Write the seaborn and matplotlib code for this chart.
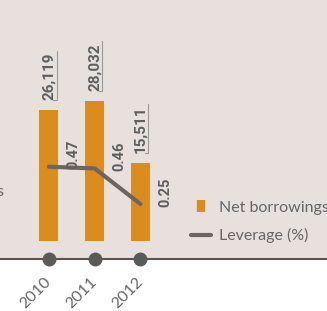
import numpy as np
import matplotlib
matplotlib.use("Agg")
import matplotlib.pyplot as plt
import seaborn as sns
from matplotlib.lines import Line2D

years = ["2010", "2011", "2012"]
net_borrowings = [26119, 28032, 15511]
leverage = [0.47, 0.46, 0.25]
borrow_labels = ["26,119", "28,032", "15,511"]
leverage_labels = ["0.47", "0.46", "0.25"]

bg = "#E7E0DD"
orange = "#DA8C1E"
grey_line = "#6E6562"
text_grey = "#666666"

sns.set_theme(style="white")
plt.rcParams["font.family"] = ["Lato", "DejaVu Sans"]

fig = plt.figure(figsize=(3.27, 3.11), dpi=100)
fig.patch.set_facecolor("white")
ax = fig.add_axes([0, 52 / 311, 1, 259 / 311])
ax.set_facecolor(bg)

x = np.arange(len(years))
sns.barplot(x=x, y=net_borrowings, ax=ax, color=orange, width=0.41,
            saturation=1, native_scale=True, linewidth=0)
ax.set_xlim(-1.065, 6.07)
ax.set_ylim(-3600, 48200)

ax2 = ax.twinx()
sns.lineplot(x=x, y=leverage, ax=ax2, color=grey_line, linewidth=3,
             solid_capstyle="round", solid_joinstyle="round")
ax2.set_ylim(-0.0743, 1.4537)

# value labels above bars, with a small bracket line
for i, (v, lab) in enumerate(zip(net_borrowings, borrow_labels)):
    y0 = v + 2000
    ax.text(i, y0, lab, rotation=90, ha="center", va="bottom",
            fontsize=11, fontweight="bold", color="#5E5E5E",
            family=["Roboto", "DejaVu Sans"])
    ax.plot([i + 0.17, i + 0.17], [y0, y0 + 9900], color="#9A9A9A", lw=0.8)
    ax.plot([i + 0.09, i + 0.17], [y0, y0], color="#9A9A9A", lw=0.8)

for i, (v, lab) in enumerate(zip(leverage, leverage_labels)):
    ax2.annotate(lab, (i, v), xytext=(25, 12), textcoords="offset pixels",
                 rotation=90, ha="center", va="center", fontsize=10.5,
                 fontweight="bold", color="#5E5E5E",
                 family=["Roboto", "DejaVu Sans"])

# dots on the baseline
ax.plot(x, [ax.get_ylim()[0]] * len(x), "o", color="#5A5A5A", ms=9,
        clip_on=False, zorder=5)

for a in (ax, ax2):
    for s in ("top", "right", "left"):
        a.spines[s].set_visible(False)
    a.set_yticks([])
    a.set_ylabel("")
ax2.spines["bottom"].set_visible(False)
ax.spines["bottom"].set_color("#555555")
ax.spines["bottom"].set_linewidth(1.5)

ax.set_xticks(x)
ax.set_xticklabels(years, rotation=45, ha="right", va="center",
                   rotation_mode="anchor", fontsize=11.5, color=text_grey)
ax.tick_params(axis="x", length=0, pad=15)
ax.set_xlim(-1.065, 6.07)

handles = [
    Line2D([], [], marker="|", ls="none", color=orange, ms=9, mew=6),
    Line2D([], [], color=grey_line, lw=3, solid_capstyle="round"),
]
fig.legend(handles, ["Net borrowings", "Leverage (%)"], loc="center left",
           bbox_to_anchor=(177 / 327, 1 - 222 / 311), frameon=False,
           fontsize=11.5, labelcolor=text_grey, handlelength=1.25,
           handletextpad=0.5, labelspacing=0.85)

fig.text(-4 / 327, 1 - 192 / 311, "s", fontsize=11.5, color=text_grey,
         va="center", ha="left")

fig.savefig("out.png", dpi=100, facecolor=fig.get_facecolor())
